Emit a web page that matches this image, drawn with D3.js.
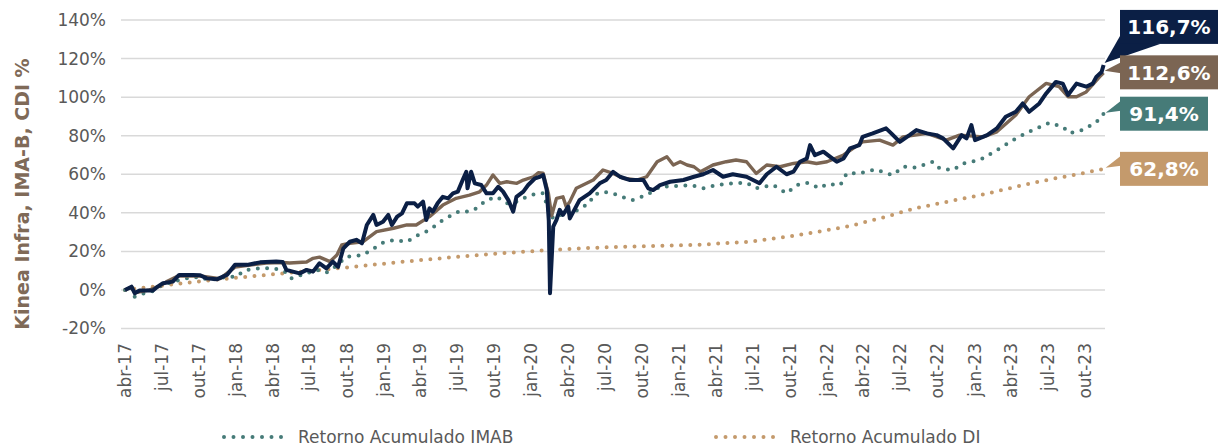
<!DOCTYPE html>
<html><head><meta charset="utf-8">
<script src="https://cdn.jsdelivr.net/npm/d3@7"></script>
<style>body{margin:0;background:#fff}svg{display:block;font-family:"DejaVu Sans",Verdana,sans-serif}</style>
</head><body><svg id="c" width="1219" height="447"></svg>
<script>
// ---- data ----
const monthNames = ["jan","fev","mar","abr","mai","jun","jul","ago","set","out","nov","dez"];
const yTicks = [-20,0,20,40,60,80,100,120,140];
const legendNames = ["Retorno Acumulado IMAB","Retorno Acumulado DI"];
const endLabels = ["116,7%","112,6%","91,4%","62,8%"];

const kineaInfra = [["2017-04-01",0],["2017-04-17",1.7],["2017-04-25",-1.7],["2017-05-07",-0.3],["2017-06-09",-0.3],["2017-06-18",1.3],["2017-07-04",3.5],["2017-07-28",4.3],["2017-08-13",7.8],["2017-09-16",7.8],["2017-10-04",7.6],["2017-10-20",6],["2017-11-14",5.5],["2017-12-09",7.8],["2017-12-29",13],["2018-01-28",13],["2018-03-01",14.3],["2018-04-10",14.7],["2018-04-26",14.5],["2018-05-05",10.4],["2018-05-21",9.5],["2018-06-07",8.6],["2018-06-24",10.4],["2018-07-10",9.5],["2018-07-26",13.8],["2018-08-12",11.2],["2018-08-28",14.7],["2018-09-10",12],["2018-09-23",21.6],["2018-10-09",25],["2018-10-25",26],["2018-11-08",24.2],["2018-11-20",33.7],["2018-12-06",38.9],["2018-12-14",33.7],["2018-12-30",35.4],["2019-01-12",38.9],["2019-01-21",33.7],["2019-02-03",38],["2019-02-15",39.7],["2019-02-27",44.9],["2019-03-18",44.9],["2019-03-26",43.2],["2019-04-08",45.8],["2019-04-16",36.3],["2019-04-24",42.3],["2019-05-02",40.6],["2019-05-14",44.9],["2019-05-27",48.3],["2019-06-09",47.5],["2019-06-21",50.1],["2019-07-03",51],["2019-07-15",57],["2019-07-24",61.3],["2019-07-27",52.7],["2019-08-05",61.3],["2019-08-14",55.3],["2019-08-30",54.4],["2019-09-12",50.1],["2019-09-28",50.1],["2019-10-11",53.5],["2019-10-23",51],["2019-11-05",46.6],["2019-11-17",40.6],["2019-11-25",48.3],["2019-12-12",51],["2019-12-24",54.4],["2020-01-10",57.9],["2020-01-22",58.7],["2020-01-30",59.6],["2020-02-08",51.8],["2020-02-13",36],["2020-02-16",-1.7],["2020-02-24",32.8],["2020-03-03",36.3],["2020-03-11",41.5],["2020-03-19",38.9],["2020-04-01",43.2],["2020-04-05",37.1],["2020-04-29",46.6],["2020-05-24",50.1],["2020-06-18",55.3],["2020-07-04",57],["2020-07-21",61.3],["2020-08-07",58.7],["2020-09-01",57],["2020-10-04",57],["2020-10-16",52.7],["2020-10-28",51.8],["2020-11-14",54.4],["2020-12-09",56.1],["2021-01-11",57],["2021-02-06",58.7],["2021-03-01",60],["2021-03-25",62.2],["2021-04-19",58.7],["2021-05-13",60],["2021-06-16",58.7],["2021-07-18",55.3],["2021-08-05",60],["2021-08-29",63.9],["2021-09-23",60],["2021-10-10",61.3],["2021-10-26",66.5],["2021-11-12",68.2],["2021-11-20",75.1],["2021-12-02",69.9],["2021-12-23",71.7],["2022-01-09",69],["2022-01-25",66.5],["2022-02-11",68.2],["2022-02-27",73.4],["2022-03-22",75.1],["2022-03-30",79.4],["2022-04-24",81.2],["2022-05-27",83.8],["2022-06-09",81.2],["2022-06-30",76.8],["2022-07-24",80.3],["2022-08-10",82.9],["2022-09-05",81.2],["2022-09-29",80.3],["2022-10-15",78.6],["2022-11-09",73.4],["2022-11-30",80.3],["2022-12-12",78.6],["2022-12-24",85.5],["2023-01-02",77.7],["2023-02-01",80.3],["2023-02-25",83.8],["2023-03-19",89.8],["2023-04-13",92.4],["2023-04-30",96.7],["2023-05-16",92.4],["2023-06-10",96.7],["2023-06-27",101.9],["2023-07-21",107.9],["2023-08-07",107],["2023-08-20",101.1],["2023-09-10",107],["2023-10-04",105.4],["2023-10-20",107],["2023-10-29",110.5],["2023-11-11",113],["2023-11-16",116.7]];

const kineaInfraCota = [["2017-04-01",0],["2017-04-17",1.5],["2017-04-25",-1.5],["2017-06-01",0],["2017-06-26",2],["2017-07-12",4.2],["2017-08-10",7.2],["2017-10-04",7.2],["2017-11-22",5.9],["2017-12-29",11.8],["2018-03-16",14],["2018-04-26",14.2],["2018-05-13",14],["2018-06-24",14.5],["2018-07-10",16.4],["2018-07-26",17],["2018-08-21",14.7],["2018-09-07",18.1],["2018-09-19",23.3],["2018-10-09",24.2],["2018-11-11",25],["2018-12-14",30.2],["2019-01-25",32],["2019-02-27",33.7],["2019-03-22",33.7],["2019-04-24",38],["2019-05-27",44],["2019-06-29",47.5],["2019-08-01",49.2],["2019-08-26",50.9],["2019-09-12",54.4],["2019-09-28",59.6],["2019-10-15",55.3],["2019-11-01",56.1],["2019-11-26",55.3],["2019-12-12",57],["2020-01-06",58.7],["2020-01-18",60.8],["2020-01-30",60.5],["2020-02-12",50.1],["2020-02-20",38.5],["2020-03-03",47.5],["2020-03-19",48.3],["2020-03-27",43.2],["2020-04-05",45.8],["2020-04-21",52.7],["2020-06-02",57],["2020-06-26",62.2],["2020-07-21",60.4],["2020-08-15",57.9],["2020-09-18",57],["2020-10-12",58.7],["2020-11-07",66.5],["2020-12-01",69.1],["2020-12-17",64.8],["2021-01-03",66.5],["2021-01-20",64.8],["2021-02-06",63.9],["2021-02-22",61.3],["2021-03-25",64.8],["2021-04-27",66.5],["2021-05-21",67.4],["2021-06-16",66.5],["2021-07-10",60.4],["2021-08-05",64.8],["2021-09-07",63.9],["2021-10-10",65.6],["2021-11-12",66.5],["2021-12-06",65.6],["2022-01-01",66.5],["2022-02-11",70],["2022-03-30",76.8],["2022-05-11",77.7],["2022-06-13",75.1],["2022-07-08",79.4],["2022-09-05",81.2],["2022-10-23",77.7],["2022-11-25",80.3],["2023-01-22",79.4],["2023-02-25",82],["2023-04-13",90.7],["2023-05-16",100.2],["2023-06-27",107.1],["2023-07-29",105.4],["2023-08-20",100.2],["2023-09-10",100.2],["2023-10-04",102.7],["2023-11-06",110.5],["2023-11-16",112.6]];

const imab = [["2017-04-01",0],["2017-04-17",2],["2017-04-25",-3.5],["2017-05-19",-1.7],["2017-06-05",-1],["2017-07-03",2.6],["2017-08-02",4.5],["2017-09-01",6],["2017-10-04",6.9],["2017-10-20",5.5],["2017-11-14",5.5],["2017-12-08",6.9],["2018-01-03",6.9],["2018-01-19",10],["2018-02-09",10.7],["2018-03-01",11.2],["2018-04-06",11.2],["2018-05-01",9.5],["2018-05-17",6],["2018-05-30",6.9],["2018-06-24",8.6],["2018-07-18",10.4],["2018-08-12",9],["2018-08-29",11.2],["2018-10-01",17.3],["2018-10-21",17.6],["2018-11-11",18.1],["2018-11-28",20.4],["2018-12-14",22.4],["2018-12-30",24.5],["2019-01-25",25.9],["2019-02-27",25],["2019-03-22",28],["2019-04-24",31.1],["2019-05-27",36.3],["2019-07-07",40.9],["2019-08-01",40.6],["2019-08-18",42.3],["2019-09-12",46.6],["2019-10-07",48.3],["2019-11-01",44.9],["2019-11-26",45.8],["2019-12-20",48.3],["2020-01-14",50.1],["2020-01-31",50.1],["2020-02-16",38],["2020-03-03",37.1],["2020-03-23",40.6],["2020-04-13",39.7],["2020-04-29",42.3],["2020-05-24",44.9],["2020-06-02",49.2],["2020-06-26",50.9],["2020-07-21",50],["2020-08-23",47.5],["2020-09-07",46.6],["2020-10-12",49.2],["2020-11-14",53.5],["2021-01-03",54],["2021-01-28",54.4],["2021-03-01",52.7],["2021-04-04",54.4],["2021-05-13",55.3],["2021-06-16",55.6],["2021-07-10",52.7],["2021-08-21",54.4],["2021-09-23",50.1],["2021-10-18",54.4],["2021-11-12",55.6],["2021-12-14",52.7],["2022-01-01",54.9],["2022-02-03",54.4],["2022-02-19",60.5],["2022-03-22",60.5],["2022-05-02",62.5],["2022-05-27",60.5],["2022-06-13",59.6],["2022-07-08",63.9],["2022-08-10",63.5],["2022-09-20",66.5],["2022-10-07",63],["2022-11-09",62.2],["2022-12-03",65.6],["2023-01-14",67.4],["2023-02-25",72.5],["2023-04-13",78.6],["2023-05-25",83],["2023-07-05",86.7],["2023-08-07",84.6],["2023-08-24",81.3],["2023-09-26",83],["2023-10-29",87],["2023-11-16",91.4]];

const di = [["2017-04-01",0],["2017-10-04",4.5],["2018-04-01",8.1],["2018-10-09",11.8],["2019-02-10",14.5],["2019-06-13",16.8],["2019-10-15",19],["2020-02-16",20.7],["2020-06-18",22],["2020-10-21",22.8],["2021-02-22",23.5],["2021-06-24",25],["2021-09-15",27.3],["2021-12-06",30],["2022-02-28",33.2],["2022-05-18",37.5],["2022-08-10",42.5],["2022-11-01",46],["2023-01-22",49.5],["2023-04-13",53.5],["2023-07-05",57.3],["2023-09-26",60.5],["2023-11-16",62.8]];

// ---- drawing ----
const svg = d3.select("#c");
const parse = d3.utcParse("%Y-%m-%d");
const x = d3.scaleUtc().domain([parse("2017-04-01"), parse("2023-10-01")]).range([125, 1085]);
const y = d3.scaleLinear().domain([-20, 140]).range([328.5, 20]);
const plotLeft = 121, plotRight = 1105;

svg.append("g").selectAll("line").data(yTicks).join("line")
  .attr("x1", plotLeft).attr("x2", plotRight)
  .attr("y1", d => y(d)).attr("y2", d => y(d))
  .attr("stroke", "#d9d9d9").attr("stroke-width", 1.5);

svg.append("g").selectAll("text").data(yTicks).join("text")
  .attr("x", 106).attr("y", d => y(d)).attr("dy", "0.35em")
  .attr("text-anchor", "end").attr("font-size", 17).attr("fill", "#595959")
  .text(d => d + "%");

const xTicks = d3.utcMonth.every(3).range(parse("2017-04-01"), parse("2023-10-02"));
svg.append("g").selectAll("text").data(xTicks).join("text")
  .attr("transform", d => `translate(${x(d)},343) rotate(-90)`)
  .attr("dy", "0.35em").attr("text-anchor", "end")
  .attr("font-size", 17).attr("fill", "#595959")
  .text(d => monthNames[d.getUTCMonth()] + "-" + String(d.getUTCFullYear()).slice(2));

svg.append("text").attr("transform", "translate(22,194) rotate(-90)")
  .attr("text-anchor", "middle").attr("dy", "0.35em")
  .attr("font-size", 19).attr("font-weight", "bold").attr("fill", "#7f6a58")
  .text("Kinea Infra, IMA-B, CDI %");

const line = d3.line().x(d => x(parse(d[0]))).y(d => y(d[1]));
const colors = {navy: "#0b1f45", brown: "#7b6553", teal: "#467b78", tan: "#c49a6c"};

svg.append("path").datum(di).attr("d", line).attr("fill", "none")
  .attr("stroke", colors.tan).attr("stroke-width", 4).attr("stroke-linecap", "round").attr("stroke-dasharray", "0 9.3");
svg.append("path").datum(imab).attr("d", line).attr("fill", "none")
  .attr("stroke", colors.teal).attr("stroke-width", 4).attr("stroke-linecap", "round").attr("stroke-dasharray", "0 9.3");
svg.append("path").datum(kineaInfraCota).attr("d", line).attr("fill", "none")
  .attr("stroke", colors.brown).attr("stroke-width", 3.4).attr("stroke-linejoin", "round");
svg.append("path").datum(kineaInfra).attr("d", line).attr("fill", "none")
  .attr("stroke", colors.navy).attr("stroke-width", 4).attr("stroke-linejoin", "round");

const series = [
  {data: kineaInfra, color: colors.navy, label: endLabels[0], off: -38, w: 98, kind: "below"},
  {data: kineaInfraCota, color: colors.brown, label: endLabels[1], off: -0.5, w: 98, kind: "left2"},
  {data: imab, color: colors.teal, label: endLabels[2], off: 0, w: 88, kind: "left"},
  {data: di, color: colors.tan, label: endLabels[3], off: 0, w: 88, kind: "left"}
];
const bx = 1120, bh = 34;
series.forEach(s => {
  const last = s.data[s.data.length - 1];
  const tx = x(parse(last[0])) + 1, ty = y(last[1]);
  const cy = ty + s.off, top = cy - bh / 2;
  const g = svg.append("g");
  let pts;
  if (s.kind === "below") pts = [[tx, ty - 2], [bx, top + bh - 8], [bx + 40, top + bh]];
  else if (s.kind === "left2") pts = [[tx, ty - 2], [bx + 1, cy - 10], [bx + 1, cy + 1]];
  else pts = [[tx + 1, ty - 1], [bx + 1, cy - 13], [bx + 1, cy - 3]];
  g.append("polygon").attr("points", pts.map(p => p.join(",")).join(" ")).attr("fill", s.color);
  g.append("rect").attr("x", bx).attr("y", top).attr("width", s.w).attr("height", bh).attr("fill", s.color);
  g.append("text").attr("x", bx + s.w / 2).attr("y", cy).attr("dy", "0.36em")
    .attr("text-anchor", "middle").attr("font-size", 20).attr("font-weight", "bold").attr("fill", "#fff")
    .text(s.label);
});

const legendX = [222, 714], legendColors = [colors.teal, colors.tan];
legendNames.forEach((n, i) => {
  const g = svg.append("g");
  g.append("line").attr("x1", legendX[i] + 2).attr("x2", legendX[i] + 60).attr("y1", 437).attr("y2", 437)
    .attr("stroke", legendColors[i]).attr("stroke-width", 4).attr("stroke-linecap", "round").attr("stroke-dasharray", "0 9.5");
  g.append("text").attr("x", legendX[i] + 76).attr("y", 437).attr("dy", "0.35em")
    .attr("font-size", 17).attr("fill", "#595959").text(n);
});
</script></body></html>
